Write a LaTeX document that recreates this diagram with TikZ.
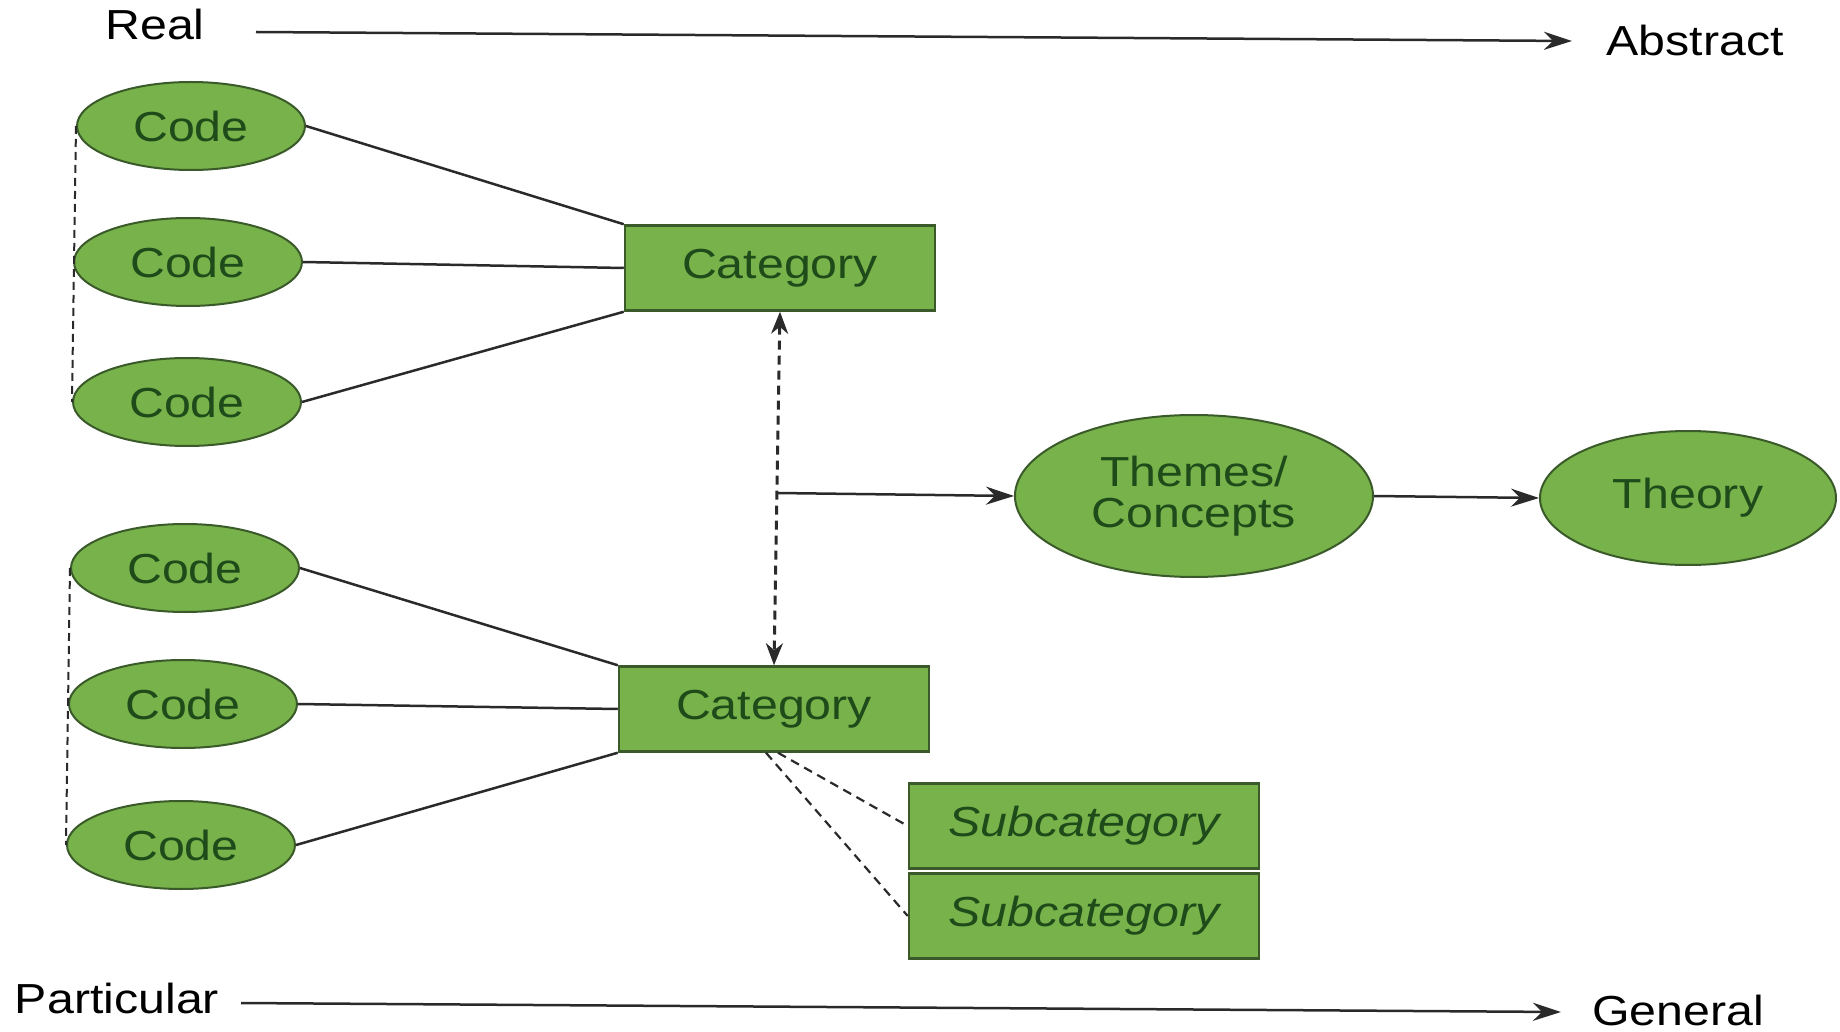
\documentclass[tikz,border=0pt]{standalone}
\usepackage{fontspec}
\setmainfont{Liberation Sans}[FakeStretch=1.15]
\usetikzlibrary{shapes.geometric,arrows.meta}
\definecolor{gfill}{HTML}{77B24A}
\definecolor{gline}{HTML}{3A5A2A}
\definecolor{gtext}{HTML}{1F4A1A}
\definecolor{ink}{HTML}{2A2A2A}
\begin{document}
\begin{tikzpicture}[x=1pt,y=-1pt,
 every node/.style={font=\fontsize{42}{41}\selectfont},
 code/.style={ellipse, draw=gline, line width=2pt, fill=gfill, text=gtext, minimum width=228pt, minimum height=88pt, inner sep=0pt},
 catbox/.style={rectangle, draw=gline, line width=2.5pt, fill=gfill, text=gtext, minimum width=310pt, minimum height=85pt, inner sep=0pt},
 subbox/.style={catbox, minimum width=350pt, font=\fontsize{42}{41}\selectfont\itshape},
 link/.style={draw=ink, line width=2.5pt},
 dlink/.style={draw=ink, line width=2.2pt, dash pattern=on 9pt off 6pt},
 vdash/.style={draw=ink, line width=2pt, dash pattern=on 8pt off 5pt},
 arr/.style={link, -{Stealth[length=28pt,width=18pt,inset=9pt]}},
 lab/.style={text=black, inner sep=0pt}
]
\useasboundingbox (0,0) rectangle (1840,1032);

% axis labels
\node[lab] (real) at (155,24) {Real};
\node[lab] (abstract) at (1695,40) {Abstract};
\node[lab] (particular) at (117,998) {Particular};
\node[lab] (general) at (1678,1010) {General};
\coordinate (ta) at (256,32);
\coordinate (tb) at (1572,41);
\coordinate (ba) at (241,1003);
\coordinate (bb) at (1561,1012);
\draw[arr] (ta) -- (tb);
\draw[arr] (ba) -- (bb);

% top group
\node[code] (c1) at (191,126) {Code};
\node[code] (c2) at (188,262) {Code};
\node[code] (c3) at (187,402) {Code};
\node[catbox] (cat1) at (780,268) {Category};

% bottom group
\node[code] (c4) at (185,568) {Code};
\node[code] (c5) at (183,704) {Code};
\node[code] (c6) at (181,845) {Code};
\node[catbox] (cat2) at (774,709) {Category};

\node[subbox] (s1) at (1084,826) {Subcategory};
\node[subbox] (s2) at (1084,916) {Subcategory};

% themes and theory
\node[ellipse, draw=gline, line width=2pt, fill=gfill, text=gtext, minimum width=358pt, minimum height=162pt, inner sep=0pt, align=center] (themes) at (1194,496) {Themes/\\Concepts};
\node[ellipse, draw=gline, line width=2pt, fill=gfill, text=gtext, minimum width=296pt, minimum height=134pt, inner sep=0pt] (theory) at (1688,498) {Theory};

% connectors top
\draw[link] (c1.east) -- (cat1.north west);
\draw[link] (c2.east) -- (cat1.west);
\draw[link] (c3.east) -- (cat1.south west);
\draw[vdash] (c1.west) -- (c3.west);

% connectors bottom
\draw[link] (c4.east) -- (cat2.north west);
\draw[link] (c5.east) -- (cat2.west);
\draw[link] (c6.east) -- (cat2.south west);
\draw[vdash] (c4.west) -- (c6.west);

\draw[dlink] ([xshift=4pt]cat2.south) -- (s1.west);
\draw[dlink] ([xshift=-8pt]cat2.south) -- (s2.west);

% vertical double arrow
\draw[dlink, line width=3pt, {Stealth[length=22pt,width=17pt,inset=7pt]}-{Stealth[length=22pt,width=17pt,inset=7pt]}] (cat1.south) -- (cat2.north);
\coordinate (mid) at (777,493);
\draw[arr] (mid) -- (themes.west);
\draw[arr] (themes.east) -- (theory.west);
\end{tikzpicture}
\end{document}
